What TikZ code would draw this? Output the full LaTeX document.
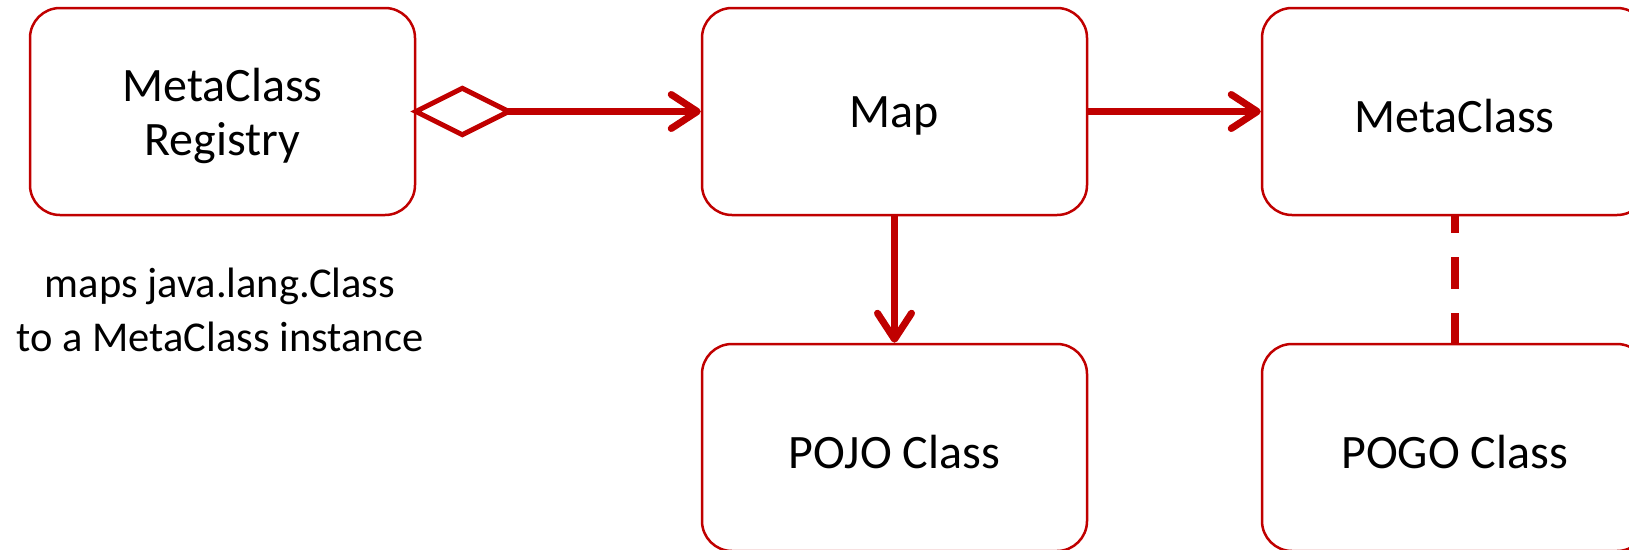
\documentclass[tikz,border=0pt]{standalone}
\usepackage{fontspec}
\setmainfont{Carlito}
\usetikzlibrary{arrows.meta}
\definecolor{umlred}{RGB}{192,0,0}
% sets a line of box text a little below the geometric centre
\newcommand{\dropline}[1]{\raisebox{-4.5pt}[\height][\depth]{#1}}
\tikzset{
  classbox/.style={draw=umlred, line width=2.5pt, rounded corners=30pt,
    minimum width=385pt, minimum height=207pt, inner sep=0pt, align=center,
    font=\fontsize{48}{54}\selectfont},
  link/.style={draw=umlred, line width=7pt},
  barb/.style={-{Straight Barb[length=26pt, width=34pt, line cap=round, round]}},
  agg/.style={{Diamond[open, fill=white, length=104pt, width=52pt, line width=5pt]}-{Straight Barb[length=26pt, width=34pt, line cap=round, round]}},
  dep/.style={draw=umlred, line width=8pt, dash pattern=on 32pt off 24pt, dash phase=15pt},
}
\begin{document}
\begin{tikzpicture}[x=1pt, y=-1pt]
  \useasboundingbox (0,0) rectangle (1629,549);
  % classes
  \node[classbox] (reg)  at (222.5,111.5)  {\dropline{MetaClass}\\\dropline{Registry}};
  \node[classbox] (map)  at (894.5,111.5)  {\dropline{Map}};
  \node[classbox] (meta) at (1454.5,111.5) {\dropline{MetaClass}};
  \node[classbox] (pojo) at (894.5,447.5)  {\dropline{POJO Class}};
  \node[classbox] (pogo) at (1454.5,447.5) {\dropline{POGO Class}};
  % note under the registry
  \node[align=center, font=\fontsize{42.5}{54}\selectfont] (note) at (220,310)
    {maps java.lang.Class\\to a MetaClass instance};
  % relations
  \draw[link, agg, shorten <=-6pt] (reg.east) -- (map.west);
  \draw[link, barb] (map.east) -- (meta.west);
  \draw[link, barb] (map.south) -- (pojo.north);
  \draw[dep] (meta.south) -- (pogo.north);
\end{tikzpicture}
\end{document}
